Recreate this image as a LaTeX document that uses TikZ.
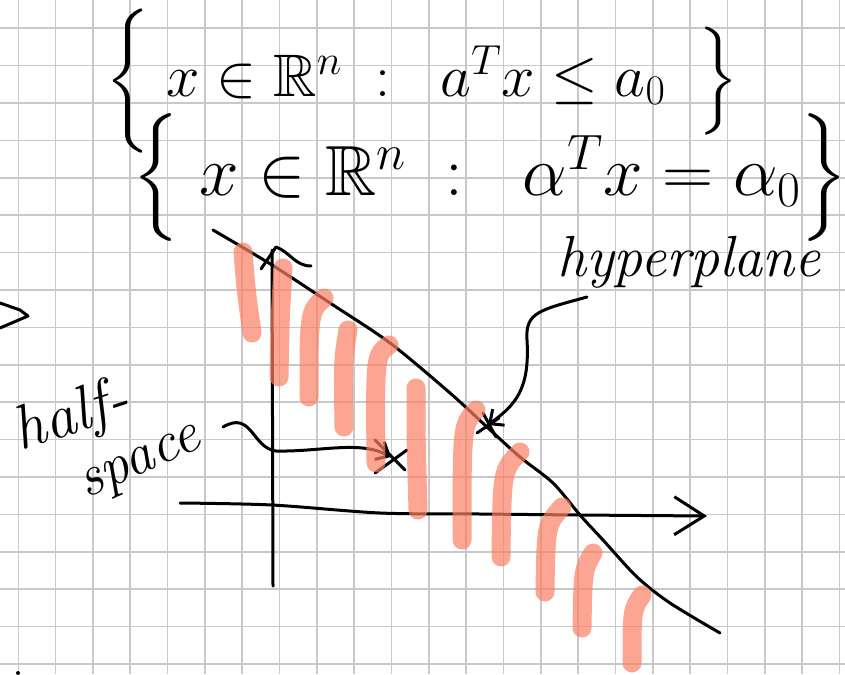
\RequirePackage{fix-cm}
\documentclass[tikz,border=0pt]{standalone}
\usepackage{amsmath}
\usepackage{amssymb}
\usepackage{xcolor}
\usetikzlibrary{arrows.meta,calc}

\definecolor{hatchred}{RGB}{250,128,100}
\definecolor{gridgray}{RGB}{200,200,200}

\begin{document}
\begin{tikzpicture}[x=1pt,y=-1pt,
  pen/.style={line width=3, line cap=round, line join=round},
  hatch/.style={line width=19, line cap=round, draw=hatchred, opacity=0.7},
  gridline/.style={line width=1.6, draw=gridgray},
  barb/.style={-{Straight Barb[length=11pt,width=20pt,line width=3pt]}},
  hand/.style={inner sep=0, font=\fontsize{58}{62}\selectfont\itshape},
  setline/.style={inner sep=0, font=\fontsize{60}{64}\selectfont}]

\fill[white] (0,0) rectangle (845,674);
\useasboundingbox (0,0) rectangle (845,674);

% squared paper
\foreach \i in {0,...,22}
  \draw[gridline] (18.3+37.33*\i,0) -- ++(0,674);
\foreach \j in {0,...,17}
  \draw[gridline] (0,28.3+37.39*\j) -- ++(845,0);

% the two sets
\node[setline] (halfset) at (422,81)
  {$\bigg\{\; x \in \mathbb{R}^{n} \;:\;\; a^{T} x \le a_{0} \;\;\Big\}$};
\node[setline,font=\fontsize{71}{75}\selectfont] (hypset) at (490,178)
  {$\Big\{\; x \in \mathbb{R}^{n} \;:\;\; \alpha^{T} x = \alpha_{0} \Big\}$};

% axes
\draw[pen] (273,586) -- (272,250);
\draw[pen] (261,269) -- (276,247) .. controls (290,252) and (295,266) .. (311,266);
\draw[pen,-{Straight Barb[length=30pt,width=38pt,line width=3pt]}]
  plot[smooth] coordinates {(180,503) (272,505) (380,513) (480,514) (580,515) (707,516)};

% hyperplane
\draw[pen] plot[smooth] coordinates {(213,230) (272,265) (330,303) (390,343) (450,393)
  (487,427) (520,457) (553,483) (580,515) (603,540) (637,577) (670,603) (720,633)};

% marked points
\coordinate (hp) at (488,425);
\coordinate (hs) at (391,457);
\draw[pen] ($(hp)+(-11,8)$) -- ($(hp)+(11,-7)$) ($(hp)+(-5,-12)$) -- ($(hp)+(8,12)$);
\draw[pen] ($(hs)+(-16,-17)$) -- ($(hs)+(14,13)$) ($(hs)+(16,-7)$) -- ($(hs)+(-16,16)$);

% labels
\node[hand] (hyper) at (689,262) {hyperplane};
\node[hand,rotate=18,font=\fontsize{62}{66}\selectfont\itshape] (half) at (72,418) {half-};
\node[hand,rotate=24] (space) at (142,466) {space};

\coordinate (hypertail) at (587,297);
\coordinate (halftail) at (223,427);
\draw[pen,barb] (hypertail) .. controls (540,310) and (525,312) .. (527,340)
  .. controls (530,390) and (515,405) .. (hp);
\draw[pen,barb] (halftail) .. controls (252,410) and (252,448) .. (276,451)
  .. controls (320,452) and (360,440) .. (hs);

% leftovers at the page edge
\draw[pen] (0,303) -- (20,310) -- (28,316) -- (0,328);
\fill (18,673) circle (2);

% shading of the half-space
\foreach \xa/\ya/\xb/\yb/\xc/\yc in {243/252/246/290/252/333, 283/268/280/320/279/377,
    324/298/309/312/309/397, 348/330/343/360/344/427, 389/345/375/355/376/463,
    416/388/416/440/418/510, 476/410/462/425/462/540, 520/452/502/470/501/557,
    562/507/546/525/545/592, 593/553/583/570/582/628, 642/595/632/610/632/663}
  \draw[hatch] (\xa,\ya) .. controls (\xb,\yb) .. (\xc,\yc);

\end{tikzpicture}
\end{document}
